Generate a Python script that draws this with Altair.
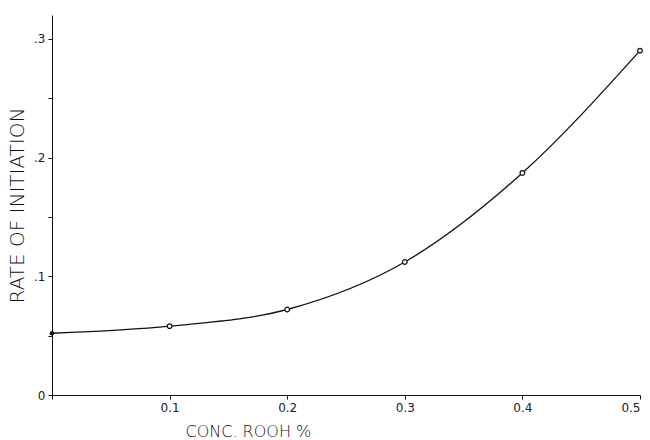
import altair as alt
import pandas as pd

conc = [0.0, 0.1, 0.2, 0.3, 0.4, 0.5]
rate = [0.052, 0.058, 0.072, 0.112, 0.187, 0.290]
filled = [True, False, False, False, False, False]

df = pd.DataFrame({"conc": conc, "rate": rate, "filled": filled})

font = "DejaVu Sans"

x = alt.X("conc:Q", scale=alt.Scale(domain=[0, 0.5], nice=False),
          axis=alt.Axis(title="CONC. ROOH %", values=[0, 0.1, 0.2, 0.3, 0.4, 0.5],
                        labelExpr="datum.value == 0 ? '' : format(datum.value, '.1f')",
                        grid=False, domainColor="#111", tickColor="#111", tickSize=4,
                        labelFont=font, labelFontSize=12, labelColor="#222", labelPadding=3,
                        titleFont=font, titleFontSize=16, titleFontWeight=200,
                        titleColor="#111", titleAnchor="start", titleAlign="left",
                        titleBaseline="top", titleX=133, titleY=28))
y = alt.Y("rate:Q", scale=alt.Scale(domain=[0, 0.32], nice=False),
          axis=alt.Axis(title="RATE OF INITIATION", values=[0, 0.05, 0.1, 0.15, 0.2, 0.25, 0.3],
                        labelExpr="datum.value == 0 ? '0' : (datum.value * 10) % 1 < 0.01 || (datum.value*10)%1 > 0.99 ? '.' + format(datum.value*10, '.0f') : ''",
                        grid=False, domainColor="#111", tickColor="#111", tickSize=4,
                        labelFont=font, labelFontSize=12, labelColor="#222", labelPadding=3,
                        titleFont=font, titleFontSize=20, titleFontWeight=200,
                        titleColor="#111", titlePadding=6))

line = alt.Chart(df).mark_line(interpolate="monotone", color="#111", strokeWidth=1.3).encode(x=x, y=y)
pts_open = alt.Chart(df).transform_filter("!datum.filled").mark_point(
    shape="circle", size=22, filled=True, fill="white", stroke="#111", strokeWidth=1.2, opacity=1
).encode(x=x, y=y)
pts_fill = alt.Chart(df).transform_filter("datum.filled").mark_point(
    shape="circle", size=22, filled=True, color="#111", opacity=1
).encode(x=x, y=y)

chart = (line + pts_open + pts_fill).properties(
    width=588, height=380,
    background="white",
    autosize=alt.AutoSizeParams(type="none"),
    padding={"left": 52, "top": 15, "right": 10, "bottom": 45},
).configure_view(strokeWidth=0)

chart.save("out.html", embed_options={"renderer": "svg", "actions": False})
